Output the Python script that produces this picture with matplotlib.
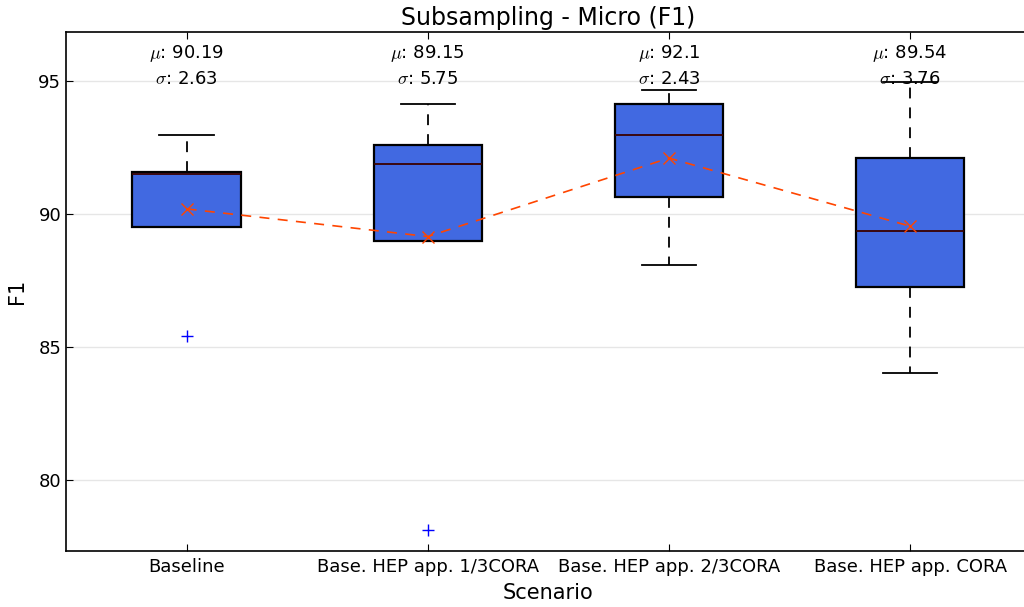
import matplotlib
matplotlib.use("Agg")
import matplotlib.pyplot as plt

categories = ["Baseline", "Base. HEP app. 1/3CORA", "Base. HEP app. 2/3CORA", "Base. HEP app. CORA"]
medians = [91.50, 91.88, 92.95, 89.36]
q1s = [89.50, 88.98, 90.64, 87.26]
q3s = [91.58, 92.59, 94.14, 92.10]
whislos = [89.50, 88.98, 88.08, 84.02]
whishis = [92.95, 94.15, 94.66, 94.96]
fliers = [[85.40], [78.10], [], []]
means = [90.19, 89.15, 92.1, 89.54]
stds = [2.63, 5.75, 2.43, 3.76]
yticks = [80, 85, 90, 95]

plt.rcParams['mathtext.fontset'] = 'cm'
fig = plt.figure(figsize=(10.24, 6.07), dpi=100)
ax = fig.add_axes([0.0645, 0.0923, 0.942, 0.855])

stats = []
for i in range(len(categories)):
    stats.append(dict(med=medians[i], q1=q1s[i], q3=q3s[i], whislo=whislos[i],
                      whishi=whishis[i], fliers=fliers[i], mean=means[i], label=categories[i]))

positions = list(range(1, len(categories) + 1))
ax.bxp(stats, positions=positions, widths=0.45, patch_artist=True, showmeans=False,
       boxprops=dict(facecolor='royalblue', edgecolor='black', linewidth=1.6),
       medianprops=dict(color='#3a0000', linewidth=1.3),
       whiskerprops=dict(color='black', linestyle=(0, (6, 5)), linewidth=1.3),
       capprops=dict(color='black', linewidth=1.3),
       flierprops=dict(marker='+', markeredgecolor='blue', markersize=8, linestyle='none'))

ax.plot(positions, means, linestyle='--', color='orangered', marker='x', markersize=9,
        linewidth=1.2, dashes=(6, 5), zorder=5)

for p, m, s in zip(positions, means, stds):
    ax.text(p, 96.05, r'$\mu$: ' + f'{m}', ha='center', va='center', fontsize=13)
    ax.text(p, 95.08, r'$\sigma$: ' + f'{s}', ha='center', va='center', fontsize=13)

ax.set_xlim(0.5, 4.5)
ax.set_ylim(77.33, 96.84)
ax.set_yticks(yticks)
ax.set_xticks(positions)
ax.set_xticklabels(categories)
ax.yaxis.grid(True, color='#e6e6e6', linewidth=1.0)
ax.set_axisbelow(True)
ax.tick_params(direction='in', top=True, right=True, labelsize=13, length=5, color='black')
ax.tick_params(axis='x', pad=5)
for sp in ax.spines.values():
    sp.set_linewidth(1.2)
    sp.set_color('black')

ax.set_title('Subsampling - Micro (F1)', fontsize=17, pad=5)
ax.set_xlabel('Scenario', fontsize=15, labelpad=5)
ax.set_ylabel('F1', fontsize=15, labelpad=8)

fig.savefig('out.png', dpi=100)
